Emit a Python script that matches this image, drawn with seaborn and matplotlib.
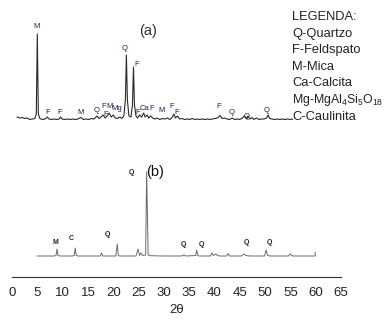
"""X-ray diffractograms (a) and (b), stacked on a shared 2-theta axis."""

import matplotlib
matplotlib.use("Agg")
import matplotlib.pyplot as plt
from matplotlib.ticker import MultipleLocator
import seaborn as sns

# pattern (a): 2-theta and intensity above its own baseline
two_theta_a = [1.0, 1.5, 2.0, 2.5, 3.0, 3.5, 4.0, 4.5, 4.8, 5.0, 5.2, 5.5, 6.0, 6.5,
               7.0, 7.3, 7.8, 8.3, 8.8, 9.3, 9.6, 9.9, 10.5, 11.0, 11.5, 12.0, 12.5,
               13.0, 13.6, 14.1, 14.6, 15.2, 15.7, 16.2, 16.8, 17.2, 17.6, 18.0, 18.4,
               18.8, 19.2, 19.6, 20.0, 20.4, 20.8, 21.3, 21.7, 22.1, 22.4, 22.6, 22.8,
               23.1, 23.5, 23.8, 24.0, 24.2, 24.5, 24.8, 25.2, 25.6, 26.0, 26.3, 26.7,
               27.0, 27.4, 27.8, 28.2, 28.7, 29.2, 29.7, 30.2, 30.7, 31.2, 31.7, 32.0,
               32.3, 32.7, 33.1, 33.6, 34.1, 34.6, 35.1, 35.6, 36.1, 36.6, 37.1, 37.6,
               38.1, 38.6, 39.1, 39.6, 40.1, 40.6, 41.1, 41.5, 42.0, 42.5, 43.0, 43.5,
               44.0, 44.5, 45.0, 45.5, 45.9, 46.3, 46.6, 47.0, 47.4, 47.8, 48.3, 48.8,
               49.3, 49.8, 50.3, 50.6, 50.9, 51.4, 51.9, 52.4, 52.9, 53.4, 53.9, 54.4,
               55.0, 55.5]
intensity_a = [3.0, 2.0, 2.5, 1.5, 2.0, 0.5, 1.0, 1.5, 6.0, 86.0, 6.0, 1.5, 0.5, 1.0,
               3.0, 1.0, 0.5, 1.0, 0.5, 1.0, 3.0, 1.0, 0.5, 1.0, 0.5, 1.0, 0.5,
               1.0, 2.5, 0.5, 1.0, 0.5, 1.5, 1.0, 4.0, 1.5, 3.0, 5.0, 2.0,
               4.0, 7.0, 3.0, 5.0, 2.0, 1.5, 3.0, 1.5, 4.0, 20.0, 65.0, 20.0,
               4.0, 3.0, 15.0, 53.0, 15.0, 4.0, 2.0, 5.0, 3.0, 7.0, 3.0, 5.0,
               2.0, 4.0, 2.0, 1.0, 2.0, 0.5, 1.5, 1.0, 2.0, 0.5, 3.0, 6.0,
               2.0, 4.0, 1.0, 1.5, 0.5, 1.0, 0.5, 1.5, 0.5, 1.0, 0.5, 1.0,
               0.5, 1.0, 0.5, 1.0, 1.5, 2.0, 4.5, 1.5, 2.0, 1.0, 0.5, 2.0,
               0.5, 1.0, 0.5, 2.0, 4.0, 1.0, 4.0, 1.0, 2.5, 0.5, 2.0, 0.5,
               1.0, 1.0, 2.0, 5.0, 1.5, 1.0, 0.5, 1.0, 0.5, 1.0, 0.5, 1.0,
               0.5, 1.0]

# pattern (b)
two_theta_b = [4.9, 8.3, 8.7, 8.9, 9.1, 9.5, 11.9, 12.3, 12.5, 12.7, 13.0, 17.4, 17.7,
               17.9, 20.5, 20.8, 21.0, 21.3, 24.5, 24.9, 25.2, 25.5, 25.8, 26.4, 26.6,
               26.9, 27.3, 30.0, 33.5, 34.0, 34.3, 36.3, 36.5, 36.7, 37.0, 39.2, 39.5,
               39.8, 40.3, 40.6, 41.0, 42.4, 42.7, 43.0, 45.3, 45.8, 46.2, 47.0, 49.9,
               50.2, 50.5, 51.0, 54.6, 55.0, 55.4, 59.9, 59.9]
intensity_b = [0.0, 0.0, 0.5, 7.0, 0.5, 0.0, 0.0, 0.5, 8.0, 0.5, 0.0, 0.0, 3.0,
               0.0, 0.0, 12.0, 0.5, 0.0, 0.0, 7.0, 0.5, 3.0, 0.5, 1.0, 84.0,
               1.0, 0.3, 0.0, 0.0, 1.0, 0.0, 0.5, 6.0, 0.5, 0.0, 0.0, 3.0,
               0.5, 2.0, 0.5, 0.0, 0.0, 2.5, 0.0, 0.0, 2.0, 0.5, 0.0, 0.0,
               6.0, 0.5, 0.0, 0.0, 2.0, 0.0, 0.0, 4.0]

# phase labels: (2-theta, height, text)
labels_a = [(4.9, 250, "M"), (22.3, 229, "Q"), (24.7, 213, "F"),
            (7.1, 165, "F"), (9.5, 165, "F"), (13.6, 164, "M"), (16.8, 166, "Q"),
            (18.2, 171, "F"), (18.6, 163, "F"), (19.3, 171, "M"), (20.7, 169, "Mg"),
            (24.9, 165, "F"), (26.1, 168, "Ca"), (27.5, 168, "F"),
            (29.6, 167, "M"), (31.6, 171, "F"), (32.6, 165, "F"),
            (40.9, 170, "F"), (43.3, 164, "Q"), (46.4, 161, "Q"), (50.4, 167, "Q")]
labels_b = [(8.5, 34, "M"), (11.7, 39, "C"), (18.8, 42, "Q"), (23.5, 104, "Q"),
            (33.8, 33, "Q"), (37.4, 33, "Q"), (46.4, 34, "Q"), (50.8, 34, "Q")]

legend_lines = ["LEGENDA:", "Q-Quartzo", "F-Feldspato", "M-Mica", "Ca-Calcita",
                r"Mg-MgAl$_\mathregular{4}$Si$_\mathregular{5}$O$_\mathregular{18}$",
                "C-Caulinita"]

OFFSET_A = 157
OFFSET_B = 21

sns.set_style("white")
plt.rcParams["font.family"] = ["Liberation Sans", "DejaVu Sans"]

fig = plt.figure(figsize=(3.87, 3.21), dpi=100)
ax = fig.add_axes([12 / 387, 44 / 321, 329 / 387, 272 / 321])

sns.lineplot(x=two_theta_a, y=[v + OFFSET_A for v in intensity_a], ax=ax,
             estimator=None, sort=False, color="#2a2a2a", linewidth=0.8)
sns.lineplot(x=two_theta_b, y=[v + OFFSET_B for v in intensity_b], ax=ax,
             estimator=None, sort=False, color="#6a6a6a", linewidth=0.7)

for x, y, s in labels_a:
    ax.text(x, y, s, ha="center", va="center", fontsize=5.5, color="#1c1c48")
for x, y, s in labels_b:
    ax.text(x, y, s, ha="center", va="center", fontsize=5, color="#222222",
            fontweight="bold")

ax.text(26.9, 246, "(a)", ha="center", va="center", fontsize=10.5, color="#333333")
ax.text(28.3, 105, "(b)", ha="center", va="center", fontsize=10.5, color="#111111")

for i, line in enumerate(legend_lines):
    size = 8.8 if line.startswith("Mg") else 9.3
    fig.text(292 / 387, 1 - (17 + 16.6 * i) / 321, line, ha="left", va="center",
             fontsize=size, color="#222222")

ax.set_xlim(0, 65)
ax.set_ylim(0, 272)
ax.set_yticks([])
for side in ["top", "left", "right"]:
    ax.spines[side].set_visible(False)
ax.spines["bottom"].set_color("#333333")
ax.spines["bottom"].set_linewidth(0.8)
ax.xaxis.set_major_locator(MultipleLocator(5))
ax.xaxis.set_minor_locator(MultipleLocator(2.5))
ax.tick_params(axis="x", which="major", direction="in", length=4, width=0.8,
               labelsize=9.5, pad=7, colors="#333333", labelcolor="#222222")
ax.tick_params(axis="x", which="minor", direction="in", length=2, width=0.8,
               colors="#333333")
ax.set_xlabel("2θ", fontsize=9.5, labelpad=4, color="#222222")
ax.set_ylabel("")
ax.patch.set_alpha(0)

fig.savefig("out.png", dpi=100)
